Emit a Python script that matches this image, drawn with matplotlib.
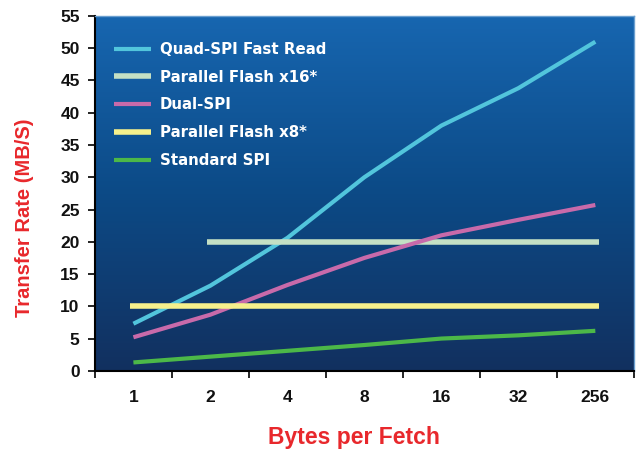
import numpy as np
import matplotlib
matplotlib.use("Agg")
import matplotlib.pyplot as plt
from matplotlib.colors import LinearSegmentedColormap

# data
fetch = ['1', '2', '4', '8', '16', '32', '256']
quad_spi = [7.3, 13.2, 20.6, 30.0, 38.0, 43.8, 51.0]
par_x16 = [None, 20, 20, 20, 20, 20, 20]
dual_spi = [5.2, 8.7, 13.3, 17.5, 21.0, 23.4, 25.7]
par_x8 = [10, 10, 10, 10, 10, 10, 10]
std_spi = [1.3, 2.2, 3.1, 4.0, 5.0, 5.5, 6.2]

plt.rcParams['font.family'] = ['Liberation Sans Narrow', 'Liberation Sans', 'DejaVu Sans']

fig = plt.figure(figsize=(6.37, 4.55), dpi=100)
ax = fig.add_axes([0.149, 0.185, 0.846, 0.78])

x = np.arange(len(fetch))

# gradient background
bg = LinearSegmentedColormap.from_list('bg', ['#12305f', '#0c4a86', '#1766b0'])
grad = np.linspace(0, 1, 256).reshape(-1, 1)
ax.imshow(grad, cmap=bg, aspect='auto', origin='lower',
          extent=[-0.5, 6.5, 0, 55], zorder=0)

lw = 3
ax.plot(x, quad_spi, color='#52c5dc', lw=lw, label='Quad-SPI Fast Read', solid_capstyle='butt')
x16 = [(xi, v) for xi, v in zip(x, par_x16) if v is not None]
ax.plot([p[0] - 0.05 for p in x16[:1]] + [p[0] for p in x16[1:-1]] + [x16[-1][0] + 0.05],
        [p[1] for p in x16], color='#c4e0c4', lw=lw + 1, label='Parallel Flash x16*',
        solid_capstyle='butt')
ax.plot(x, dual_spi, color='#c86aaa', lw=lw, label='Dual-SPI', solid_capstyle='butt')
ax.plot(np.r_[x[0] - 0.05, x[1:-1], x[-1] + 0.05], par_x8, color='#f6f08c', lw=lw + 1,
        label='Parallel Flash x8*', solid_capstyle='butt')
ax.plot(x, std_spi, color='#4cb848', lw=lw, label='Standard SPI', solid_capstyle='butt')

ax.set_xlim(-0.5, 6.5)
ax.set_ylim(0, 55)
ax.set_yticks(range(0, 56, 5))
ax.set_xticks(x)
ax.set_xticklabels(fetch)
ax.set_xticks(np.arange(-0.5, 7, 1), minor=True)
ax.tick_params(axis='x', which='major', length=0, pad=14, labelsize=12.5)
ax.tick_params(axis='x', which='minor', length=5, width=1.2, direction='out')
ax.tick_params(axis='y', length=5, width=1.2, direction='out', pad=6, labelsize=12.5)
for lab in ax.get_xticklabels() + ax.get_yticklabels():
    lab.set_fontweight('bold')
    lab.set_color('#111111')

for s in ['top', 'right']:
    ax.spines[s].set_color('#6a9fd0')
    ax.spines[s].set_linewidth(1)
for s in ['left', 'bottom']:
    ax.spines[s].set_color('black')
    ax.spines[s].set_linewidth(1.5)

ax.set_xlabel('Bytes per Fetch', color='#e8282c', fontsize=16.5, fontweight='bold',
              family=['Liberation Sans', 'DejaVu Sans'])
ax.xaxis.set_label_coords(0.48, -0.155)
ax.set_ylabel('Transfer Rate (MB/S)', color='#e8282c', fontsize=14.5, fontweight='bold',
              family=['Liberation Sans', 'DejaVu Sans'])
ax.yaxis.set_label_coords(-0.113, 0.43)

leg = ax.legend(loc='upper left', frameon=False, handlelength=2.5,
                handletextpad=0.55, labelspacing=0.85, bbox_to_anchor=(0.01, 0.965),
                prop={'family': ['DejaVu Sans'], 'weight': 'bold', 'size': 10.8})
for t in leg.get_texts():
    t.set_color('white')

fig.savefig('out.png', dpi=100)
